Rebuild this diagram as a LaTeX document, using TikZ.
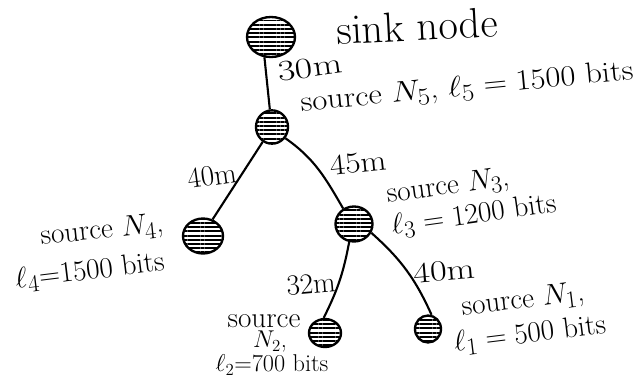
\documentclass[tikz,border=0pt]{standalone}
\usepackage{amsmath,amssymb}
\usepackage{fontspec}
\usepackage{tikz}
\usetikzlibrary{shapes.geometric,patterns.meta}

\begin{document}
\begin{tikzpicture}[x=0.03cm,y=0.03cm,font=\Huge,line width=1.8pt]
\tikzstyle{mote}=[draw,ellipse,line width=2pt,inner sep=0pt,pattern={Lines[angle=0,distance=3.6pt,line width=1.7pt]}]
\tikzstyle{lbl}=[inner sep=0pt]
\useasboundingbox (0,0) rectangle (642,-379);
% the motes of the tree
\node[mote,minimum width=1.44cm,minimum height=1.2cm] (sink) at (271,-37) {};
\node[mote,minimum width=0.96cm,minimum height=1cm] (n5) at (272,-127) {};
\node[mote,minimum width=1.2cm,minimum height=1.05cm] (n4) at (203,-236) {};
\node[mote,minimum width=1.11cm,minimum height=1.05cm] (n3) at (354,-224) {};
\node[mote,minimum width=0.96cm,minimum height=0.84cm] (n2) at (325,-333) {};
\node[mote,minimum width=0.78cm,minimum height=0.81cm] (n1) at (428,-329) {};
\draw (sink.-108) -- (n5.97);
\draw (n5.-122) -- (n4.60);
\draw (n5.-40) to[out=-35,in=120] (n3.125);
\draw (n3.-105) to[bend left=8] (n2.95);
\draw (n3.-27) to[bend left=12] (n1.76);
% link lengths
\node[lbl,rotate=8,xscale=1.3] (d5) at (310,-68) {30m};
\node[lbl,rotate=8] (d4) at (212,-176) {40m};
\node[lbl,rotate=6,xscale=1.15] (d3) at (358,-163) {45m};
\node[lbl,rotate=5] (d2) at (311,-284) {32m};
\node[lbl,rotate=5,xscale=1.25] (d1) at (444,-271) {40m};
% sources and their loads
\node[lbl,font=\fontsize{36}{42}\selectfont,rotate=3] (snk) at (417,-26) {sink node};
\node[lbl,rotate=5.5,xscale=1.12] (s5) at (467,-88) {source $N_5$, $\ell_5 = 1500$ bits};
\node[lbl,rotate=8] (s3a) at (448,-187) {source $N_3$,};
\node[lbl,rotate=8] (s3b) at (474,-216) {$\ell_3 = 1200$ bits};
\node[lbl,rotate=6] (s4a) at (102,-231) {source $N_4$,};
\node[lbl,rotate=7] (s4b) at (90,-272) {$\ell_4{=}1500$ bits};
\node[lbl,rotate=7] (s1a) at (523,-301) {source $N_1$,};
\node[lbl,rotate=7] (s1b) at (530,-335) {$\ell_1 = 500$ bits};
\node[lbl] (s2a) at (264,-321) {source};
\node[lbl,font=\huge] (s2b) at (270,-342) {$N_2$,};
\node[lbl,font=\huge] (s2c) at (272,-365) {$\ell_2{=}700$ bits};
\end{tikzpicture}
\end{document}
